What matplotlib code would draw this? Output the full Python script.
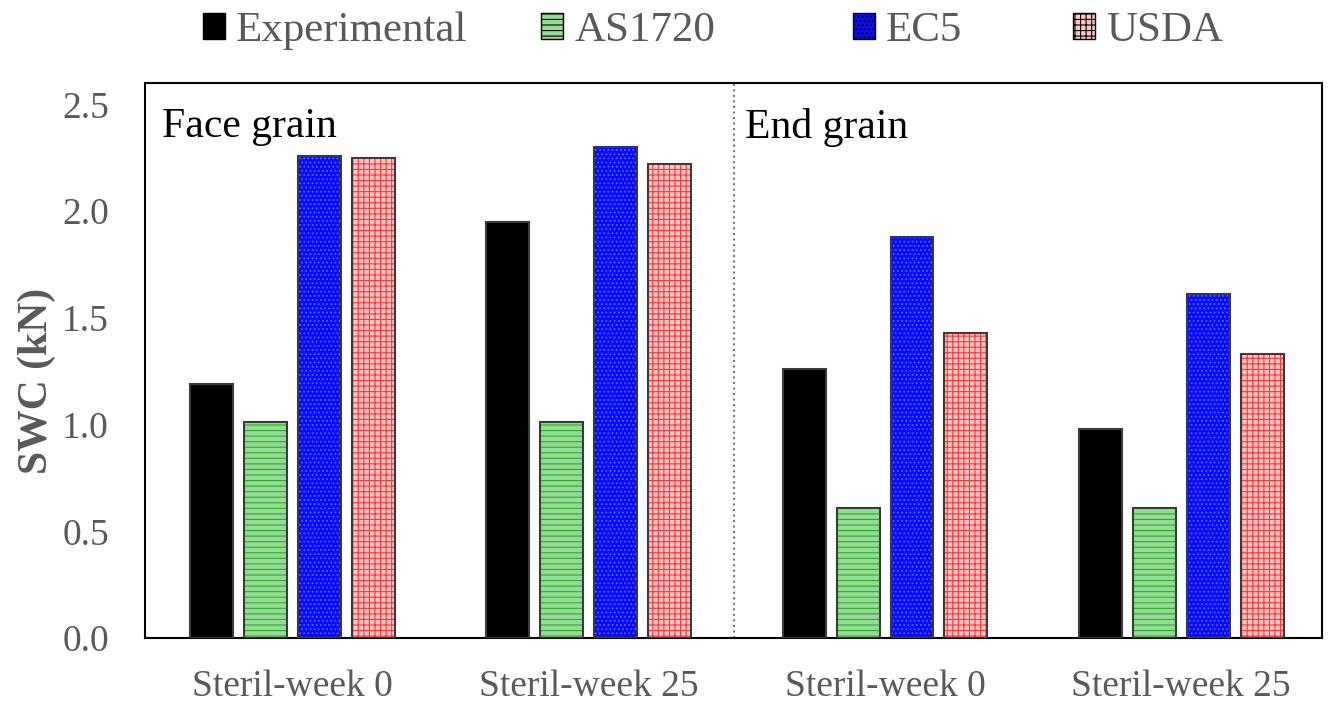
import matplotlib
matplotlib.use("Agg")
import matplotlib.pyplot as plt
import numpy as np
from matplotlib.patches import Patch

categories = ["Steril-week 0", "Steril-week 25", "Steril-week 0", "Steril-week 25"]
series_names = ["Experimental", "AS1720", "EC5", "USDA"]
experimental = [1.19, 1.95, 1.26, 0.98]
as1720 = [1.01, 1.01, 0.61, 0.61]
ec5 = [2.26, 2.30, 1.88, 1.61]
usda = [2.25, 2.22, 1.43, 1.33]
panel_labels = ["Face grain", "End grain"]
yticks = [0.0, 0.5, 1.0, 1.5, 2.0, 2.5]

plt.rcParams['font.family'] = ['Liberation Serif', 'DejaVu Serif']
plt.rcParams['hatch.linewidth'] = 0.8

gray = "#595959"
fig = plt.figure(figsize=(13.28, 7.02), dpi=100)
ax = fig.add_axes([145/1328, 64/702, 1177/1328, 555/702])

styles = [
    dict(face="black", hatch=None, hc="black"),
    dict(face="#94dc94", hatch="---", hc="#2fa82f"),
    dict(face="#0a0aff", hatch="....", hc="#4a6aff"),
    dict(face="#ffc4c4", hatch="+++", hc="#ff3535"),
]
data = [experimental, as1720, ec5, usda]
x = np.arange(len(categories))
width = 0.145
step = 0.182
handles = []
for i, (vals, st) in enumerate(zip(data, styles)):
    pos = x + (i - 1.5) * step
    ax.bar(pos, vals, width, color=st["face"], hatch=st["hatch"],
           edgecolor=st["hc"], linewidth=0, zorder=2)
    ax.bar(pos, vals, width, fill=False, edgecolor="#3a3a3a", linewidth=1.5, zorder=3)
    handles.append(Patch(facecolor=st["face"], hatch=st["hatch"], edgecolor="black",
                         linewidth=1.0, label=series_names[i]))

ax.set_xlim(-0.498, 3.475)
ax.set_ylim(0, 2.6)
ax.plot([0.5, 0.5], [0, 1], transform=ax.transAxes, color="#777777",
        linestyle=":", linewidth=1.5, zorder=1)
ax.set_yticks(yticks)
ax.set_yticklabels([f"{v:.1f}" for v in yticks])
ax.set_xticks(x)
ax.set_xticklabels(categories)
ax.tick_params(axis='both', length=0, labelsize=27, labelcolor=gray)
ax.tick_params(axis='y', pad=26)
ax.tick_params(axis='x', pad=23)
for s in ax.spines.values():
    s.set_linewidth(1.5)
    s.set_color("black")

ax.set_ylabel("SWC (kN)", fontsize=30, fontweight="bold", color=gray)
ax.yaxis.set_label_coords(-0.0756, 0.463)

ax.text(0.0145, 0.955, panel_labels[0], transform=ax.transAxes, fontsize=30,
        color="black", va="top", ha="left")
ax.text(0.510, 0.955, panel_labels[1], transform=ax.transAxes, fontsize=30,
        color="black", va="top", ha="left")

legend_x = [203, 541, 853, 1073]
for h, lx in zip(handles, legend_x):
    leg = fig.legend(handles=[h], loc="center left",
                     bbox_to_anchor=(lx/1328, 1 - 31/702),
                     frameon=False, fontsize=31, handlelength=0.52, handleheight=0.52,
                     handletextpad=0.25, borderpad=0, borderaxespad=0)
    for t in leg.get_texts():
        t.set_color(gray)

fig.savefig("out.png", dpi=100)
